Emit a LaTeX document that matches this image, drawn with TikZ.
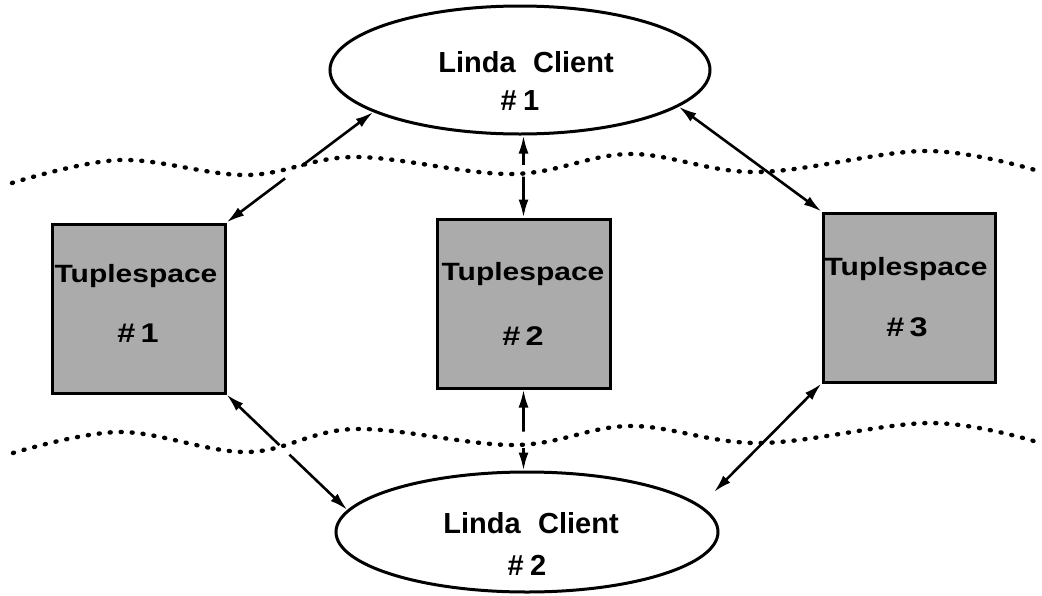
\documentclass[tikz,border=0pt]{standalone}
\usepackage{fontspec}
\setmainfont{Liberation Sans}
\newfontfamily\boxfont{Liberation Sans}[FakeStretch=1.2]
\usetikzlibrary{shapes.geometric,arrows.meta,calc}

\tikzset{
  client/.style={ellipse, draw, line width=3pt, inner sep=0pt},
  tspace/.style={rectangle, draw, line width=3pt, fill=black!33,
                 minimum width=173pt, minimum height=169pt, inner sep=0pt},
  ctext/.style={font=\fontsize{29}{29}\selectfont\bfseries, inner sep=0pt, anchor=base},
  ttext/.style={font=\boxfont\fontsize{25}{25}\selectfont\bfseries, inner sep=0pt, anchor=base},
  tnum/.style={font=\boxfont\fontsize{27}{27}\selectfont\bfseries, inner sep=0pt, anchor=base},
  biarrow/.style={line width=2.6pt, {Latex[length=18pt,width=10pt]}-{Latex[length=18pt,width=10pt]}},
  knock/.style={draw=white, line width=7pt},
  dotline/.style={line width=4.4pt, line cap=round, dash pattern=on 1pt off 10pt}
}

\begin{document}
\begin{tikzpicture}[x=1pt,y=-1pt]
  \useasboundingbox (0,0) rectangle (1042,595);

  % clients
  \node[client, minimum width=380pt, minimum height=128pt] (c1) at (520,70) {};
  \node[client, minimum width=382pt, minimum height=120pt] (c2) at (527,532) {};

  % tuplespaces
  \node[tspace] (t1) at (138.5,308.5) {};
  \node[tspace] (t2) at (523.5,303.5) {};
  \node[tspace, minimum width=172pt] (t3) at (909,297.5) {};

  % free end of the lower right connector
  \coordinate (c2ne) at (714,492);

  % connectors
  \draw[biarrow] (c1.196) -- (t1.north east);
  \draw[biarrow] (t2.north |- c1.south) -- (t2.north);
  \draw[biarrow] (c1.-13) -- (t3.north west);
  \draw[biarrow] (t1.south east) -- (c2.173);
  \draw[biarrow] (t2.south) -- (t2.south |- c2.north);
  \draw[biarrow] (t3.south west) -- (c2ne);

  % breaks where connectors cross the boundary lines
  \draw[knock] ($(c1.196)!0.49!(t1.north east)$) -- ($(c1.196)!0.60!(t1.north east)$);
  \draw[knock] ($(t2.north |- c1.south)!0.36!(t2.north)$) -- ($(t2.north |- c1.south)!0.50!(t2.north)$);
  \draw[knock] ($(t1.south east)!0.44!(c2.173)$) -- ($(t1.south east)!0.52!(c2.173)$);
  \draw[knock] ($(t2.south)!0.52!(t2.south |- c2.north)$) -- ($(t2.south)!0.72!(t2.south |- c2.north)$);

  % boundary lines
  \draw[dotline] plot[smooth, tension=0.6] coordinates
    {(12,183) (120,160) (247,175) (355,157) (512,174) (630,154) (757,172) (925,151) (1035,170)};
  \draw[dotline] plot[smooth, tension=0.6] coordinates
    {(13,453) (120,432) (247,452) (355,429) (515,445) (630,426) (760,443) (930,423) (1037,442)};

  % labels
  \node[ctext] (c1a) at (526,72) {Linda\hspace{0.6em}Client};
  \node[ctext] (c1b) at (520,110) {\#\hspace{0.22em}1};
  \node[ctext] (c2a) at (531,533) {Linda\hspace{0.6em}Client};
  \node[ctext] (c2b) at (527,575) {\#\hspace{0.22em}2};

  \node[ttext] (t1a) at (136,282) {Tuplespace};
  \node[tnum] (t1b) at (138,342) {\#\hspace{0.2em}1};
  \node[ttext] (t2a) at (523,280) {Tuplespace};
  \node[tnum] (t2b) at (523,345) {\#\hspace{0.2em}2};
  \node[ttext] (t3a) at (906,275) {Tuplespace};
  \node[tnum] (t3b) at (907,336) {\#\hspace{0.2em}3};
\end{tikzpicture}
\end{document}
